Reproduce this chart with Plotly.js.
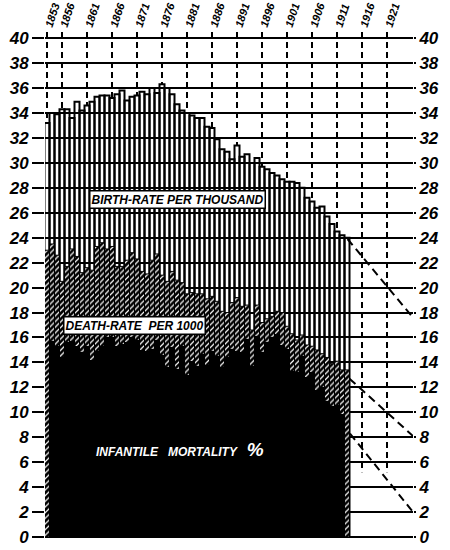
<!DOCTYPE html>
<html>
<head>
<meta charset="utf-8">
<script src="https://cdn.plot.ly/plotly-3.0.1.min.js"></script>
<style>html,body{margin:0;padding:0;background:#fff}#chart{width:450px;height:550px}</style>
</head>
<body>
<div id="chart"></div>
<script>
// ---- data ----
var years = [1853,1854,1855,1856,1857,1858,1859,1860,1861,1862,
             1863,1864,1865,1866,1867,1868,1869,1870,1871,1872,
             1873,1874,1875,1876,1877,1878,1879,1880,1881,1882,
             1883,1884,1885,1886,1887,1888,1889,1890,1891,1892,
             1893,1894,1895,1896,1897,1898,1899,1900,1901,1902,
             1903,1904,1905,1906,1907,1908,1909,1910,1911,1912,
             1913];
var birthRate = [33.2,34.0,33.9,34.3,34.3,33.6,34.9,34.2,34.6,34.9,
                 35.3,35.4,35.4,35.2,35.5,35.8,35.0,35.3,35.4,35.7,
                 35.5,36.0,35.6,36.3,36.0,35.5,34.7,34.2,34.0,33.8,
                 33.6,33.6,32.9,32.8,31.9,31.1,30.9,30.3,31.4,30.5,
                 30.7,30.0,30.4,29.7,29.5,29.2,29.0,28.7,28.5,28.5,
                 28.4,28.0,27.2,26.9,26.4,26.5,25.7,25.1,24.5,24.2,
                 24.0];
var deathRate = [23.0,23.5,22.6,20.5,21.7,23.1,22.5,21.2,21.6,21.4,
                 23.3,23.6,23.1,23.3,21.7,21.7,22.2,22.8,22.3,21.3,
                 21.1,22.2,22.7,21.0,20.5,21.3,20.6,20.4,19.5,19.6,
                 19.5,19.5,19.1,19.3,18.9,18.1,18.0,18.8,19.2,18.5,
                 18.6,16.6,18.6,17.2,17.5,17.7,18.1,18.0,16.9,16.3,
                 15.8,16.2,15.4,15.3,15.0,14.7,14.4,13.9,14.1,13.4,
                 13.4];
var infantMortality = [null,15.7,15.3,14.4,15.6,15.7,15.3,14.8,15.3,14.2,
                 14.9,15.3,16.0,16.0,15.3,15.5,15.6,16.0,15.8,15.0,
                 14.9,15.1,15.8,14.6,13.6,15.2,13.5,15.3,13.0,14.1,
                 13.7,14.7,13.8,14.9,14.5,13.6,14.4,15.1,14.9,14.8,
                 15.9,13.7,16.1,14.8,15.6,16.0,16.3,15.4,15.1,13.3,
                 13.2,14.5,12.8,13.2,11.8,12.0,10.9,10.5,10.6,9.9,
                 null];
// projections (dashed)
var birthProjX = [1913.1, 1926.2],  birthProjY = [23.9, 17.6];
var deathProjX = [1913.5, 1926.2],  deathProjY = [12.7, 8.1];
var infantProjX = [1913.6, 1926.2], infantProjY = [8.3, 2.0];
// top year labels
var tickYears = [1853,1856,1861,1866,1871,1876,1881,1886,1891,1896,1901,1906,1911,1916,1921];
var tickText = ['1853','1856','1861','1866','1871','1876','1881','1886','1891','1896','1901','1906','1911','1916','1921'];
var yTicks = [0,2,4,6,8,10,12,14,16,18,20,22,24,26,28,30,32,34,36,38,40];
var yTickText = ['0','2','4','6','8','10','12','14','16','18','20','22','24','26','28','30','32','34','36','38','40'];

// ---- build ----
var TOP = 40.5, FLOOR_BEYOND = 5.2;
var gx = [], gy = [];
tickYears.forEach(function(yr){
  var i = years.indexOf(yr);
  var bottom = i >= 0 ? birthRate[i] : FLOOR_BEYOND;
  gx.push(yr, yr, null); gy.push(TOP, bottom, null);
});

var hand = {family: 'Liberation Sans, Arial, sans-serif', weight: 'bold', style: 'italic', color: '#000'};
function f(sz, col){ return Object.assign({}, hand, {size: sz, color: col || '#000'}); }

var traces = [
  {type:'bar', x: years, y: birthRate, width: 1, name:'birth',
   marker:{color:'rgba(255,255,255,0)', line:{color:'#000', width:2}}, hoverinfo:'skip'},
  {type:'bar', x: years, y: deathRate, width: 1, name:'death',
   marker:{color:'#000', line:{color:'#000', width:1},
     pattern:{shape:'/', fillmode:'replace', bgcolor:'#000', fgcolor:'#fff', size:4, solidity:0.3}}, hoverinfo:'skip'},
  {type:'bar', x: years, y: infantMortality, width: 1, name:'infant',
   marker:{color:'#000', line:{color:'#000', width:0}}, hoverinfo:'skip'},
  {type:'scatter', mode:'lines', x: gx, y: gy, line:{color:'#000', width:2, dash:'6px,4px'}, hoverinfo:'skip', cliponaxis:false},
  {type:'scatter', mode:'lines', x: birthProjX, y: birthProjY, yaxis:'y2', line:{color:'#000', width:2, dash:'8px,5px'}, hoverinfo:'skip'},
  {type:'scatter', mode:'lines', x: deathProjX, y: deathProjY, yaxis:'y2', line:{color:'#000', width:2, dash:'8px,5px'}, hoverinfo:'skip'},
  {type:'scatter', mode:'lines', x: infantProjX, y: infantProjY, yaxis:'y2', line:{color:'#000', width:2, dash:'8px,5px'}, hoverinfo:'skip'}
];

var layout = {
  width: 450, height: 550,
  margin: {l:45, r:37, t:32, b:13, pad:0},
  paper_bgcolor:'#fff', plot_bgcolor:'#fff',
  showlegend:false, barmode:'overlay', bargap:0,
  xaxis: {range:[1852.6, 1926.2], side:'top', tickmode:'array', tickvals: tickYears, ticktext: tickText,
          tickangle:-72, tickfont: f(11), ticks:'', showgrid:false, zeroline:false, showline:false,
          ticklabelstandoff: -3, fixedrange:true},
  yaxis: {range:[0, TOP], tickmode:'array', tickvals: yTicks, ticktext: yTickText,
          showgrid:true, gridcolor:'#000', gridwidth:2, zeroline:true, zerolinecolor:'#000', zerolinewidth:2,
          showline:false, ticks:'outside', ticklen:12, tickwidth:2, tickcolor:'#000',
          tickfont: f(17), ticklabelstandoff: 0, fixedrange:true},
  yaxis2: {range:[0, TOP], overlaying:'y', side:'right', tickmode:'array', tickvals: yTicks, ticktext: yTickText,
          showgrid:false, zeroline:false, showline:false, ticks:'outside', ticklen:2, tickwidth:2, tickcolor:'#000',
          tickfont: f(17), ticklabelstandoff: 0, fixedrange:true},
  annotations: [
    {x:1879.0, y:27.1, xref:'x', yref:'y', text:'BIRTH-RATE PER THOUSAND', showarrow:false,
     font: f(12), bgcolor:'#fff', bordercolor:'#000', borderwidth:1.5, borderpad:1},
    {x:1870.4, y:17.0, xref:'x', yref:'y', text:'DEATH-RATE  PER 1000', showarrow:false,
     font: f(12), bgcolor:'#fff', bordercolor:'#000', borderwidth:1.5, borderpad:1},
    {x:1879.6, y:7.0, xref:'x', yref:'y', text:'INFANTILE   MORTALITY   <span style="font-size:19px">%</span>', showarrow:false,
     font: f(12, '#fff')}
  ]
};

Plotly.newPlot('chart', traces, layout, {staticPlot:true, displayModeBar:false});
</script>
</body>
</html>
